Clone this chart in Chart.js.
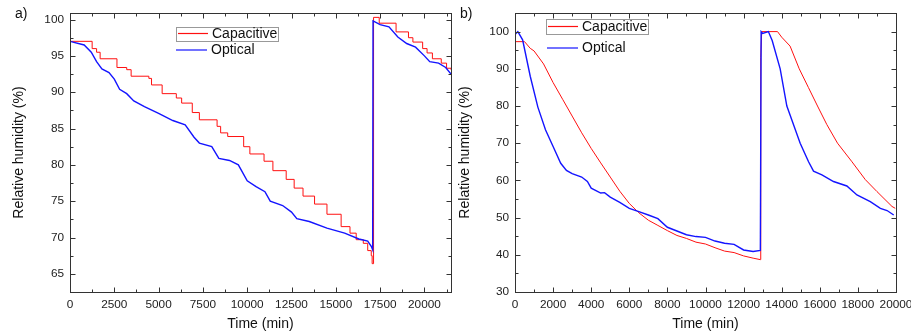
<!DOCTYPE html>
<html>
<head>
<meta charset="utf-8">
<script src="https://cdn.jsdelivr.net/npm/chart.js@4.4.1/dist/chart.umd.min.js"></script>
<style>
  html, body { margin: 0; padding: 0; background: #fff; }
  .panel { position: absolute; top: 0; height: 334px; }
  #panelA { left: 0; width: 455px; }
  #panelB { left: 455px; width: 456px; }
</style>
</head>
<body>
<div class="panel" id="panelA"><canvas id="chartA"></canvas></div>
<div class="panel" id="panelB"><canvas id="chartB"></canvas></div>
<script>
const seriesNames = ["Capacitive", "Optical"];

// panel a)
const aTimeTicks = [0, 2500, 5000, 7500, 10000, 12500, 15000, 17500, 20000];
const aRHTicks = [65, 70, 75, 80, 85, 90, 95, 100];
const aCapTime = [0, 1250, 1500, 1700, 2650, 3200, 3450, 4450, 4600, 5200, 6000, 6300, 6900, 7300, 8300, 8500, 8900, 9800, 10150, 10950, 11450, 12200, 12650, 13150, 13800, 14500, 15300, 15800, 16150, 16550, 16800, 17000, 17050, 17130, 17450, 18400, 19100, 19350, 19900, 20150, 20450, 20950, 21250, 21500];
const aCapRH = [97.0, 96.0, 95.5, 94.6, 93.4, 93.1, 92.2, 91.9, 91.0, 89.8, 89.2, 88.5, 87.2, 86.2, 85.3, 84.4, 83.9, 82.5, 81.5, 80.5, 79.2, 78.0, 76.8, 75.7, 74.6, 73.2, 71.5, 70.6, 69.7, 69.2, 68.2, 67.5, 66.4, 100.3, 99.5, 98.3, 97.5, 96.9, 96.0, 95.4, 94.6, 94.0, 93.3, 93.1];
const aOptTime = [0, 800, 1200, 1500, 1800, 2200, 2500, 2800, 3200, 3600, 4200, 5000, 5800, 6500, 7000, 7300, 8000, 8400, 9000, 9500, 10000, 10500, 11000, 11300, 12000, 12500, 12800, 13500, 14500, 15500, 16300, 16800, 17000, 17080, 17100, 17500, 18000, 18500, 19000, 19500, 20000, 20300, 20800, 21200, 21500];
const aOptRH = [97.0, 96.5, 95.5, 94.2, 93.2, 92.7, 91.8, 90.4, 89.8, 88.8, 88.0, 87.1, 86.1, 85.5, 83.8, 83.0, 82.5, 80.9, 80.6, 80.0, 77.8, 77.0, 76.3, 75.0, 74.4, 73.5, 72.6, 72.2, 71.3, 70.6, 69.8, 69.5, 68.8, 68.3, 99.8, 99.3, 99.0, 97.6, 96.7, 96.2, 95.0, 94.2, 94.0, 93.4, 92.5];

// panel b)
const bTimeTicks = [0, 2000, 4000, 6000, 8000, 10000, 12000, 14000, 16000, 18000, 20000];
const bRHTicks = [30, 40, 50, 60, 70, 80, 90, 100];
const bCapTime = [0, 500, 800, 1000, 1500, 2000, 2500, 3000, 3500, 4000, 4500, 5000, 5500, 6000, 6500, 7000, 7500, 8000, 8500, 9000, 9500, 10000, 10500, 11000, 11500, 12000, 12500, 12880, 12900, 12950, 13780, 14000, 14440, 14920, 15400, 15880, 16370, 16930, 17690, 18390, 19000, 19790, 19960];
const bCapRH = [97.3, 97.3, 95.5, 94.8, 91.3, 86.3, 81.8, 77.3, 72.8, 68.6, 64.7, 60.9, 57.1, 53.8, 51.3, 49.3, 47.9, 46.5, 45.2, 44.4, 43.4, 42.9, 41.9, 41.0, 40.6, 39.7, 39.1, 38.7, 93.0, 100.0, 100.0, 98.5, 96.1, 90.0, 85.0, 80.0, 75.0, 70.0, 65.0, 60.2, 57.0, 53.0, 52.5];
const bOptTime = [0, 150, 400, 800, 1200, 1600, 2000, 2400, 2700, 3000, 3500, 3800, 4000, 4500, 4700, 5000, 5500, 6000, 6500, 7000, 7500, 8000, 8500, 9000, 9500, 10000, 10500, 11000, 11500, 12000, 12500, 12880, 12920, 13000, 13300, 13500, 13920, 14270, 14970, 15410, 15670, 16110, 16720, 17420, 17950, 18650, 19180, 19530, 19880];
const bOptRH = [99.2, 100.0, 97.8, 88.0, 79.7, 73.6, 69.1, 64.6, 62.7, 61.8, 60.9, 59.7, 57.9, 56.6, 56.7, 55.5, 54.1, 52.5, 51.6, 50.7, 49.7, 47.4, 46.4, 45.4, 44.9, 44.7, 43.7, 43.1, 42.8, 41.3, 40.9, 41.2, 100.0, 99.5, 100.0, 97.6, 90.0, 80.0, 70.0, 65.0, 62.5, 61.5, 59.7, 58.5, 56.1, 54.3, 52.5, 51.9, 50.7];

const FONT = "'Liberation Sans', Arial, sans-serif";
const RED = "#ff1010";
const BLUE = "#1414ff";

function toPoints(xs, ys) {
  return xs.map((x, i) => ({ x: x, y: ys[i] }));
}

function isMajor(v, major) {
  const r = v / major;
  return Math.abs(r - Math.round(r)) < 1e-6;
}

// frame with inward ticks on all four sides
const framePlugin = {
  id: "frame",
  afterDraw(chart, args, opts) {
    const { ctx, chartArea: a } = chart;
    const xs = chart.scales.x;
    const ys = chart.scales.y;
    const L = Math.round(a.left) + 0.5;
    const R = Math.round(a.right) + 0.5;
    const T = Math.round(a.top) + 0.5;
    const B = Math.round(a.bottom) + 0.5;
    ctx.save();
    ctx.strokeStyle = "#333";
    ctx.lineWidth = 1;
    ctx.strokeRect(L, T, R - L, B - T);
    ctx.beginPath();
    for (let v = Math.ceil(xs.min / opts.xMinor) * opts.xMinor; v <= xs.max; v += opts.xMinor) {
      const len = isMajor(v, opts.xMajor) ? 5 : 3;
      const px = Math.round(xs.getPixelForValue(v)) + 0.5;
      ctx.moveTo(px, B); ctx.lineTo(px, B - len);
      ctx.moveTo(px, T); ctx.lineTo(px, T + len);
    }
    for (let v = Math.ceil(ys.min / opts.yMinor) * opts.yMinor; v <= ys.max; v += opts.yMinor) {
      const len = isMajor(v, opts.yMajor) ? 5 : 3;
      const py = Math.round(ys.getPixelForValue(v)) + 0.5;
      ctx.moveTo(L, py); ctx.lineTo(L + len, py);
      ctx.moveTo(R, py); ctx.lineTo(R - len, py);
    }
    ctx.stroke();
    ctx.fillStyle = "#111";
    ctx.font = "14px " + FONT;
    ctx.textBaseline = "middle";
    ctx.textAlign = "left";
    ctx.fillText(opts.tag, opts.tagX, 14);
    ctx.restore();
  },
};

const legendPlugin = {
  id: "insetLegend",
  afterDraw(chart, args, opts) {
    const ctx = chart.ctx;
    const b = opts.box;
    ctx.save();
    ctx.strokeStyle = "#999";
    ctx.lineWidth = 1;
    ctx.strokeRect(b[0] + 0.5, b[1] + 0.5, b[2], b[3]);
    ctx.font = "14px " + FONT;
    ctx.textBaseline = "middle";
    ctx.textAlign = "left";
    chart.data.datasets.forEach((ds, i) => {
      const it = opts.items[i];
      ctx.strokeStyle = ds.borderColor;
      ctx.lineWidth = 1.2;
      ctx.beginPath();
      ctx.moveTo(it[0], it[2]);
      ctx.lineTo(it[1], it[2]);
      ctx.stroke();
      ctx.fillStyle = "#111";
      ctx.fillText(ds.label, it[3], it[2] + 0.5);
    });
    ctx.restore();
  },
};

function make_chart(id, cfg) {
  const el = document.getElementById(id);
  return new Chart(el, {
    type: "line",
    data: {
      datasets: [
        {
          label: seriesNames[0],
          data: cfg.cap,
          borderColor: RED,
          borderWidth: 1,
          pointRadius: 0,
          stepped: cfg.capStepped,
          order: 1,
        },
        {
          label: seriesNames[1],
          data: cfg.opt,
          borderColor: BLUE,
          borderWidth: 1.4,
          pointRadius: 0,
          order: 0,
        },
      ],
    },
    options: {
      responsive: true,
      maintainAspectRatio: false,
      animation: false,
      events: [],
      layout: { padding: { left: cfg.padLeft, right: cfg.padRight, top: 13, bottom: 0 } },
      plugins: {
        legend: { display: false },
        tooltip: { enabled: false },
        frame: cfg.frame,
        insetLegend: cfg.legend,
      },
      scales: {
        x: {
          type: "linear",
          min: cfg.xMin,
          max: cfg.xMax,
          grid: { display: false, drawTicks: false },
          border: { display: false },
          afterBuildTicks: (scale) => {
            scale.ticks = cfg.xTicks.map((v) => ({ value: v }));
          },
          ticks: {
            maxRotation: 0,
            autoSkip: false,
            padding: 6,
            color: "#222",
            font: { family: FONT, size: 11.8 },
            callback: (v) => String(v),
          },
          title: {
            display: true,
            text: "Time (min)",
            color: "#111",
            padding: { top: 0, bottom: 1 },
            font: { family: FONT, size: 14 },
          },
          afterFit: (scale) => {
            scale.height = 42;
            scale.paddingLeft = 0;
            scale.paddingRight = 0;
          },
        },
        y: {
          min: cfg.yMin,
          max: cfg.yMax,
          grid: { display: false, drawTicks: false },
          border: { display: false },
          afterBuildTicks: (scale) => {
            scale.ticks = cfg.yTicks.map((v) => ({ value: v }));
          },
          ticks: {
            autoSkip: false,
            padding: 6,
            color: "#222",
            font: { family: FONT, size: 11.8 },
            callback: (v) => String(v),
          },
          title: {
            display: true,
            text: "Relative humidity (%)",
            color: "#111",
            padding: { top: 1, bottom: 0 },
            font: { family: FONT, size: 14 },
          },
          afterFit: (scale) => {
            scale.width = cfg.yWidth;
            scale.paddingTop = 0;
            scale.paddingBottom = 0;
          },
        },
      },
    },
    plugins: [framePlugin, legendPlugin],
  });
}

make_chart("chartA", {
  cap: toPoints(aCapTime, aCapRH),
  opt: toPoints(aOptTime, aOptRH),
  capStepped: true,
  xTicks: aTimeTicks,
  yTicks: aRHTicks,
  xMin: 0, xMax: 21500,
  yMin: 62.5, yMax: 100.9,
  padLeft: 10, padRight: 4, yWidth: 60,
  frame: { xMajor: 2500, xMinor: 1250, yMajor: 5, yMinor: 2.5, tag: "a)", tagX: 15 },
  legend: {
    box: [176, 27, 102, 14],
    items: [[178, 208, 33.5, 212], [176, 207, 50, 211]],
  },
});

make_chart("chartB", {
  cap: toPoints(bCapTime, bCapRH),
  opt: toPoints(bOptTime, bOptRH),
  capStepped: false,
  xTicks: bTimeTicks,
  yTicks: bRHTicks,
  xMin: 0, xMax: 20000,
  yMin: 30, yMax: 105,
  padLeft: 1, padRight: 15, yWidth: 59,
  frame: { xMajor: 2000, xMinor: 1000, yMajor: 10, yMinor: 5, tag: "b)", tagX: 5 },
  legend: {
    box: [91, 19, 102, 15],
    items: [[93, 123, 26.5, 127], [92, 123, 48, 127]],
  },
});
</script>
</body>
</html>
